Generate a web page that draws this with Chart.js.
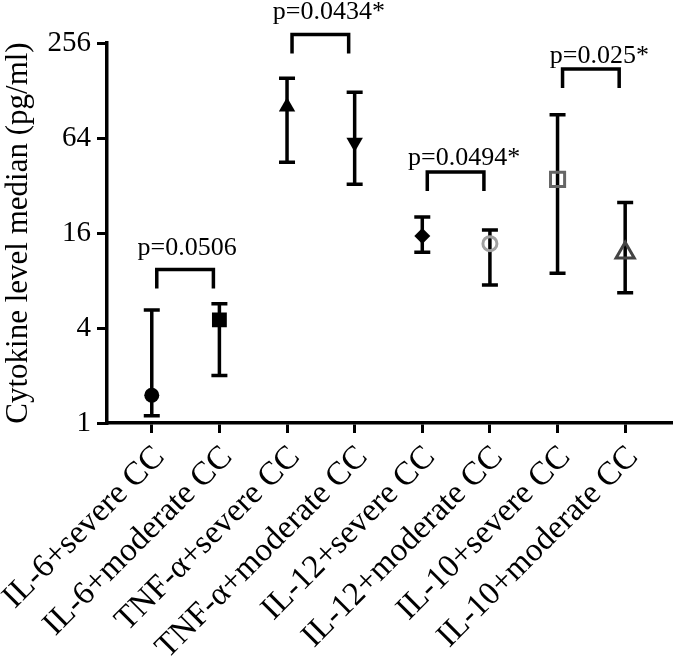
<!DOCTYPE html>
<html>
<head>
<meta charset="utf-8">
<script src="https://cdn.jsdelivr.net/npm/chart.js@4/dist/chart.umd.min.js"></script>
<style>
  html, body { margin: 0; padding: 0; background: #fff; }
  #wrap { width: 685px; height: 657px; }
</style>
</head>
<body>
<div id="wrap"><canvas id="canvas"></canvas></div>
<script>
const groups = ['IL-6+severe CC', 'IL-6+moderate CC', 'TNF-\u03b1+severe CC', 'TNF-\u03b1+moderate CC',
    'IL-12+severe CC', 'IL-12+moderate CC', 'IL-10+severe CC', 'IL-10+moderate CC']
const medians = [1.5, 4.5, 101, 60, 15.3, 13.7, 35, 12]
const upperValues = [5.2, 5.7, 153, 125, 20.2, 16.7, 90, 25]
const lowerValues = [1.11, 2.0, 45, 32.6, 12.1, 7.5, 8.9, 6.7]
const yTicks = [1, 4, 16, 64, 256]

// comparisons: pair of groups, p value label, bracket level (pg/ml)
const pairs = [[0, 1], [2, 3], [4, 5], [6, 7]]
const pLabels = ['p=0.0506', 'p=0.0434*', 'p=0.0494*', 'p=0.025*']
const bracketLevels = [9.4, 290, 39, 175]
const textGaps = [14, 15, 7, 6]

const serif = '"Liberation Serif", "Times New Roman", serif'

const whiskers = {
    id: 'whiskers',
    beforeDatasetsDraw(chart) {
        const { ctx, scales: { x, y } } = chart
        ctx.save()
        ctx.strokeStyle = '#000'
        ctx.lineWidth = 3.5
        groups.forEach((g, i) => {
            const px = x.getPixelForValue(i)
            const top = y.getPixelForValue(upperValues[i])
            const bot = y.getPixelForValue(lowerValues[i])
            ctx.beginPath()
            ctx.moveTo(px, top); ctx.lineTo(px, bot)
            ctx.moveTo(px - 8, top); ctx.lineTo(px + 8, top)
            ctx.moveTo(px - 8, bot); ctx.lineTo(px + 8, bot)
            ctx.stroke()
        })
        ctx.restore()
    },
    afterDatasetsDraw(chart) {
        const { ctx, scales: { x, y } } = chart
        ctx.save()
        ctx.strokeStyle = '#000'
        ctx.fillStyle = '#000'
        ctx.lineWidth = 3.5
        ctx.lineJoin = 'miter'
        ctx.font = '26px ' + serif
        ctx.textAlign = 'left'
        ctx.textBaseline = 'alphabetic'
        pairs.forEach(([a, b], i) => {
            const x1 = x.getPixelForValue(a) + 5
            const x2 = x.getPixelForValue(b) - 6
            const top = y.getPixelForValue(bracketLevels[i])
            ctx.beginPath()
            ctx.moveTo(x1, top + 19)
            ctx.lineTo(x1, top)
            ctx.lineTo(x2, top)
            ctx.lineTo(x2, top + 19)
            ctx.stroke()
            // centre the p value itself, the star hangs off to the right
            const w = ctx.measureText(pLabels[i].replace('*', '')).width
            ctx.fillText(pLabels[i], (x1 + x2) / 2 + 2 - w / 2, top - textGaps[i])
        })
        ctx.restore()
    }
}

const ctx = document.getElementById('canvas').getContext('2d')

const chart = new Chart(ctx, {
    type: 'scatter',
    data: {
        datasets: [
            {
                label: 'median',
                data: medians.map((v, i) => ({ x: i, y: v })),
                pointStyle: ['circle', 'rect', 'triangle', 'triangle', 'rectRot', 'circle', 'rect', 'triangle'],
                rotation: [0, 0, 0, 180, 0, 0, 0, 0],
                radius: [7.5, 10.5, 9.5, 9.5, 8, 7, 10, 10.5],
                backgroundColor: ['#000', '#000', '#000', '#000', '#000', 'rgba(0,0,0,0)', 'rgba(0,0,0,0)', 'rgba(0,0,0,0)'],
                borderColor: ['#000', '#000', '#000', '#000', '#000', '#a0a0a0', '#666', '#444'],
                borderWidth: [0, 0, 0, 0, 0, 3, 3, 3]
            }
        ]
    },
    options: {
        responsive: true,
        maintainAspectRatio: false,
        animation: false,
        layout: { padding: { top: 43, right: 2, left: 0, bottom: 0 } },
        plugins: { legend: { display: false }, tooltip: { enabled: false } },
        scales: {
            x: {
                type: 'linear',
                min: -0.662,
                max: 7.685,
                afterBuildTicks: (scale) => { scale.ticks = groups.map((g, i) => ({ value: i })) },
                afterFit: (scale) => {
                    scale.height = 234
                    scale.paddingLeft = 0
                    scale.paddingRight = 0
                },
                ticks: {
                    callback: (value) => groups[value],
                    autoSkip: false,
                    minRotation: 45,
                    maxRotation: 45,
                    padding: 5,
                    labelOffset: 8,
                    color: '#000',
                    font: { family: serif, size: 33 }
                },
                grid: { drawOnChartArea: false, tickLength: 10, lineWidth: 3, color: '#000' },
                border: { display: true, width: 3.5, color: '#000' }
            },
            y: {
                type: 'logarithmic',
                min: 1,
                max: 256,
                afterBuildTicks: (scale) => { scale.ticks = yTicks.map(v => ({ value: v })) },
                afterFit: (scale) => {
                    scale.width = 107
                    scale.paddingTop = 0
                    scale.paddingBottom = 0
                },
                ticks: {
                    callback: (value) => String(value),
                    padding: 6,
                    color: '#000',
                    font: { family: serif, size: 29 }
                },
                title: {
                    display: true,
                    text: 'Cytokine level median (pg/ml)',
                    color: '#000',
                    font: { family: serif, size: 31 },
                    padding: { top: 0, bottom: 0 }
                },
                grid: { drawOnChartArea: false, tickLength: 10, lineWidth: 3, color: '#000' },
                border: { display: true, width: 3.5, color: '#000' }
            }
        }
    },
    plugins: [whiskers]
})
</script>
</body>
</html>
